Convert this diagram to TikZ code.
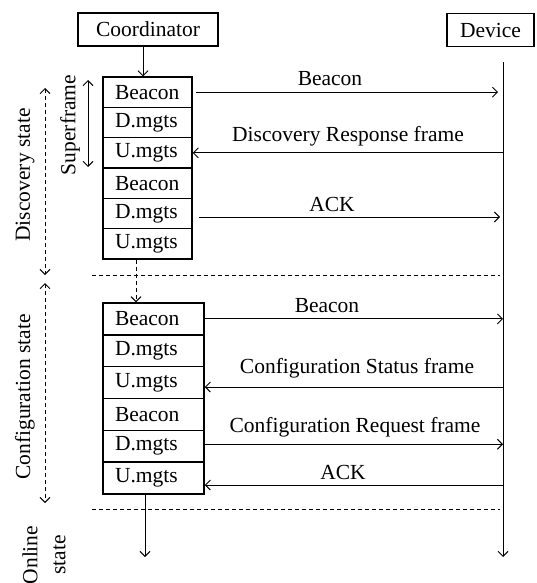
\documentclass[tikz,border=0pt]{standalone}
\usepackage{fontspec}
\setmainfont{Liberation Serif}
\usetikzlibrary{arrows.meta}
\begin{document}
\begin{tikzpicture}[x=1pt,y=-1pt,
  font=\fontsize{21.5}{25}\selectfont,
  tip/.tip={Straight Barb[length=5pt,width=10pt,line width=0.9pt]},
  hdr/.style={draw,line width=1.6pt,inner sep=0pt,minimum height=33pt},
  cellu/.style={draw,line width=1.5pt,minimum width=89pt,minimum height=30.3pt,text width=65pt,inner xsep=12pt,inner ysep=0pt,align=left},
  celll/.style={cellu,minimum width=101pt,minimum height=31.8pt,text width=77pt},
  msg/.style={line width=0.9pt,-tip},
  lbl/.style={inner sep=1pt},
  dsh/.style={line width=0.8pt,dash pattern=on 4pt off 3pt},
]
\useasboundingbox (0,0) rectangle (536,583);

% headers
\node[hdr,minimum width=140pt] (coord) at (148,29.5) {Coordinator};
\node[hdr,minimum width=87pt] (dev) at (490.5,30) {Device};

% device lifeline
\coordinate (dtop) at (503,62);
\coordinate (dbot) at (503,557);
\draw[msg] (dtop) -- (dbot);

% upper stack
\node[cellu] (u1) at (147.5,92.2) {Beacon};
\node[cellu] (u2) at (147.5,122.5) {D.mgts};
\node[cellu] (u3) at (147.5,152.8) {U.mgts};
\node[cellu] (u4) at (147.5,183.2) {Beacon};
\node[cellu] (u5) at (147.5,213.5) {D.mgts};
\node[cellu] (u6) at (147.5,243.8) {U.mgts};

% lower stack
\node[celll] (l1) at (153.5,318.9) {Beacon};
\node[celll] (l2) at (153.5,350.75) {D.mgts};
\node[celll] (l3) at (153.5,382.6) {U.mgts};
\node[celll] (l4) at (153.5,414.4) {Beacon};
\node[celll] (l5) at (153.5,446.25) {D.mgts};
\node[celll] (l6) at (153.5,478.1) {U.mgts};

% coordinator to first stack
\draw[msg] ([xshift=-5pt]coord.south) -- ([xshift=-4.5pt]u1.north);
% dashed between stacks
\draw[dsh,-tip] ([xshift=-11.5pt]u6.south) -- ([xshift=-17.5pt]l1.north);
% online arrow
\coordinate (onend) at (145,557);
\draw[msg] ([xshift=-8.5pt]l6.south) -- (onend);

% state separators
\coordinate (s1a) at (92,275);
\coordinate (s1b) at (500,275);
\coordinate (s2a) at (92,509);
\coordinate (s2b) at (500,509);
\draw[dsh] (s1a) -- (s1b);
\draw[dsh] (s2a) -- (s2b);

% state arrows
\coordinate (dsa) at (45,88);
\coordinate (dsb) at (45,275);
\coordinate (csa) at (45,283);
\coordinate (csb) at (45,503);
\draw[dsh,tip-tip] (dsa) -- (dsb);
\draw[dsh,tip-tip] (csa) -- (csb);
\node[rotate=90,lbl] (dst) at (25,175) {Discovery state};
\node[rotate=90,lbl] (cst) at (25,397) {Configuration state};
\node[rotate=90,lbl,align=center,font=\fontsize{21.5}{28}\selectfont] (ost) at (44,555) {Online\\state};

% superframe
\coordinate (sfa) at (88,80);
\coordinate (sfb) at (88,167);
\draw[line width=0.9pt,tip-tip] (sfa) -- (sfb);
\node[rotate=90,lbl] (sft) at (70,125) {Superframe};

% messages upper
\draw[msg] ([xshift=3pt]u1.east) -- ([xshift=-5pt]u1.east -| dtop);
\node[lbl] (m1) at (330,79) {Beacon};
\draw[msg] (u3.east -| dtop) -- (u3.east);
\node[lbl] (m2) at (348,136) {Discovery Response frame};
\draw[msg] ([xshift=6pt,yshift=-3.5pt]u5.east) -- ([xshift=-3pt,yshift=-3.5pt]u5.east -| dtop);
\node[lbl] (m3) at (332,204) {ACK};

% messages lower
\draw[msg] (l1.east) -- (l1.east -| dtop);
\node[lbl] (m4) at (327,306) {Beacon};
\draw[msg] ([yshift=-4.4pt]l3.east -| dtop) -- ([yshift=-4.4pt]l3.east);
\node[lbl] (m5) at (357,368) {Configuration Status frame};
\draw[msg] ([yshift=2pt]l5.east) -- ([yshift=2pt]l5.east -| dtop);
\node[lbl] (m6) at (355,427) {Configuration Request frame};
\draw[msg] ([yshift=-6.9pt]l6.east -| dtop) -- ([yshift=-6.9pt]l6.east);
\node[lbl] (m7) at (343,472) {ACK};
\end{tikzpicture}
\end{document}
